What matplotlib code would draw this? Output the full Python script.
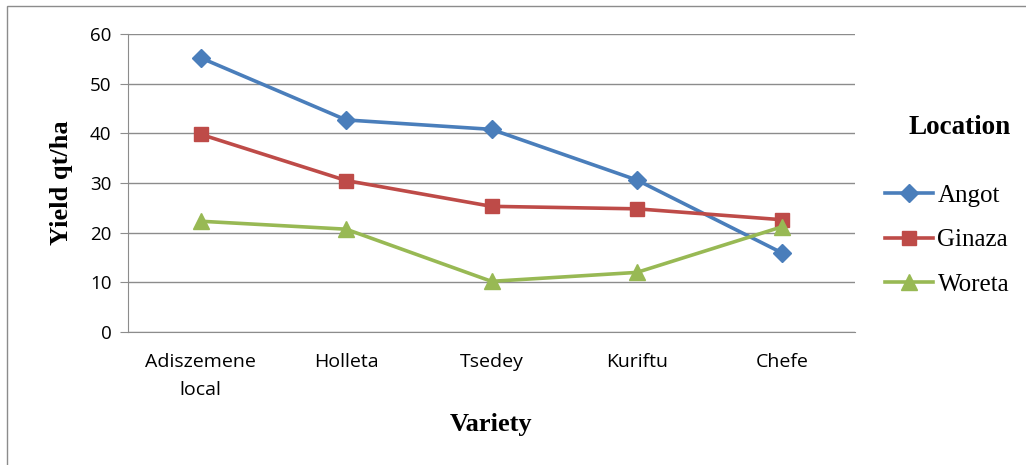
import matplotlib
matplotlib.use("Agg")
import matplotlib.pyplot as plt
from matplotlib.patches import Rectangle

varieties = ["Adiszemene\nlocal", "Holleta", "Tsedey", "Kuriftu", "Chefe"]
angot = [55.2, 42.7, 40.8, 30.6, 15.9]
ginaza = [39.8, 30.5, 25.3, 24.8, 22.6]
woreta = [22.3, 20.7, 10.2, 12.0, 21.2]
series_names = ["Angot", "Ginaza", "Woreta"]

W, H = 1026, 465
fig = plt.figure(figsize=(W / 100, H / 100), dpi=100)
ax = fig.add_axes([128 / W, 1 - 332 / H, (855 - 128) / W, (332 - 34) / H])

# outer chart frame (runs off the right and bottom edges)
fig.patches.append(Rectangle((7 / W, -0.05), 1.1, 1 - 6 / H + 0.05,
                             transform=fig.transFigure, fill=False,
                             edgecolor="#8c8c8c", linewidth=1.0))

x = list(range(len(varieties)))
styles = [
    (angot, "#4A7EBB", "D", 9),
    (ginaza, "#BE4B48", "s", 10),
    (woreta, "#98B954", "^", 11),
]
for (vals, col, mk, ms), name in zip(styles, series_names):
    ax.plot(x, vals, color=col, linewidth=2.6, marker=mk, markersize=ms,
            markeredgecolor=col, label=name, zorder=3)

ax.set_xlim(-0.5, len(varieties) - 0.5)
ax.set_ylim(0, 60)
ax.set_yticks(range(0, 61, 10))
ax.set_xticks(x)
ax.set_xticklabels(varieties, fontname="Open Sans", fontsize=14,
                   linespacing=1.7)
for lab in ax.get_yticklabels():
    lab.set_fontname("Open Sans")
    lab.set_fontsize(13.5)

ax.grid(axis="y", color="#8c8c8c", linewidth=1.0)
ax.set_axisbelow(True)
for s in ["top", "right"]:
    ax.spines[s].set_visible(False)
ax.spines["left"].set_color("#8c8c8c")
ax.spines["bottom"].set_color("#8c8c8c")
ax.tick_params(axis="y", length=6, color="#8c8c8c", pad=6)
ax.tick_params(axis="x", length=0, pad=15)

ax.set_ylabel("Yield qt/ha", fontname="Liberation Serif", fontweight="bold",
              fontsize=19, labelpad=12)
ax.set_xlabel("Variety", fontname="Liberation Serif", fontweight="bold",
              fontsize=19, labelpad=10)

leg = ax.legend(loc="center left", bbox_to_anchor=(885 / W, 1 - 240 / H),
                bbox_transform=fig.transFigure, frameon=False,
                borderpad=0, borderaxespad=0,
                handlelength=1.9, handletextpad=0.2, labelspacing=0.88,
                prop={"family": "Liberation Serif", "size": 18})
fig.text(960 / W, 1 - 127 / H, "Location", ha="center", va="center",
         fontname="Liberation Serif", fontweight="bold", fontsize=19.5)

fig.savefig("out.png", dpi=100)
